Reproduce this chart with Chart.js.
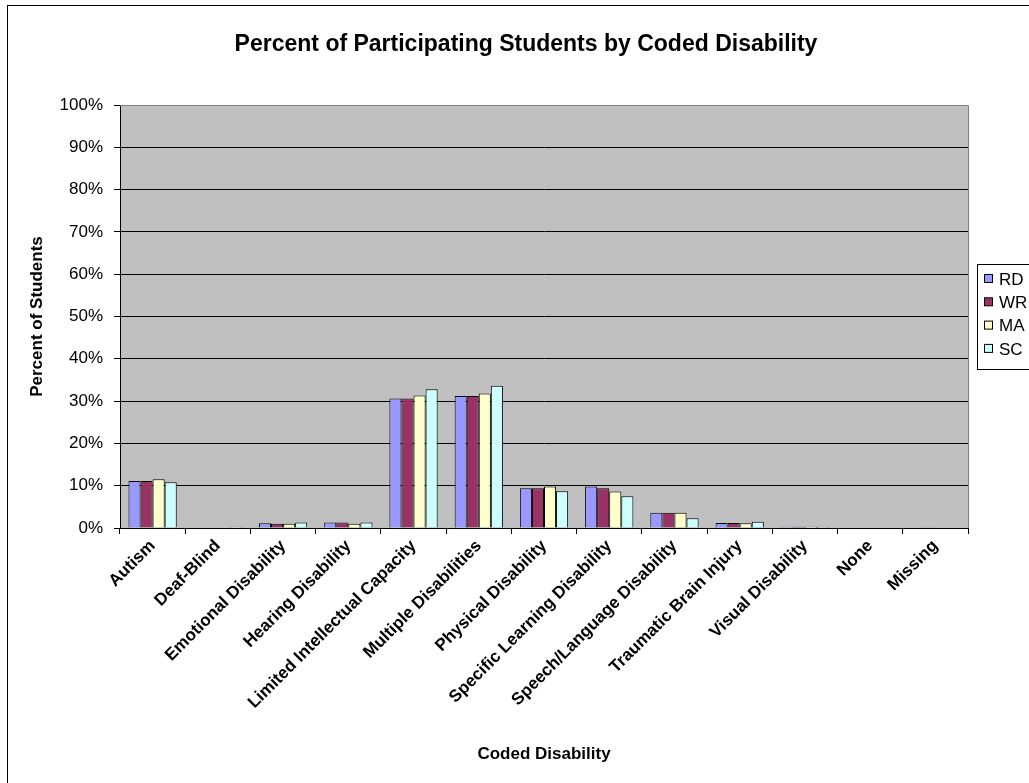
<!DOCTYPE html>
<html>
<head>
<meta charset="utf-8">
<title>Percent of Participating Students by Coded Disability</title>
<script src="https://cdn.jsdelivr.net/npm/chart.js@4/dist/chart.umd.min.js"></script>
<style>
  html, body { margin: 0; padding: 0; background: #fff; }
  canvas { display: block; }
</style>
</head>
<body>
<canvas id="grafico" width="1029" height="783"></canvas>
<script>
// Categorías y valores (porcentaje de estudiantes)
const categorias = [
  'Autism', 'Deaf-Blind', 'Emotional Disability', 'Hearing Disability',
  'Limited Intellectual Capacity', 'Multiple Disabilities', 'Physical Disability',
  'Specific Learning Disability', 'Speech/Language Disability', 'Traumatic Brain Injury',
  'Visual Disability', 'None', 'Missing'
];
const valoresRD = [11.1, 0, 1.1, 1.3, 30.6, 31.2, 9.4, 9.8, 3.6, 1.2, 0.3, 0, 0.2];
const valoresWR = [11.1, 0, 1.0, 1.3, 30.6, 31.2, 9.4, 9.4, 3.6, 1.2, 0.3, 0, 0.2];
const valoresMA = [11.5, 0.2, 1.0, 1.0, 31.3, 31.8, 9.8, 8.6, 3.6, 1.1, 0.3, 0, 0.2];
const valoresSC = [10.8, 0.3, 1.3, 1.3, 32.8, 33.6, 8.7, 7.5, 2.3, 1.5, 0.3, 0, 0.2];
const marcasY = [0, 10, 20, 30, 40, 50, 60, 70, 80, 90, 100];
const titulo = 'Percent of Participating Students by Coded Disability';

const fuente = '"Liberation Sans", Arial, sans-serif';

// Fondo gris del área de trazado, marco exterior, título y leyenda
const decoracion = {
  id: 'decoracion',
  beforeDraw(chart) {
    const { ctx, chartArea: a } = chart;
    ctx.save();
    ctx.fillStyle = '#fff';
    ctx.fillRect(0, 0, chart.width, chart.height);
    ctx.fillStyle = '#c0c0c0';
    ctx.fillRect(a.left, a.top, a.right - a.left, a.bottom - a.top);
    ctx.restore();
  },
  afterDraw(chart) {
    const { ctx, chartArea: a } = chart;
    ctx.save();
    // borde del área de trazado
    ctx.strokeStyle = '#808080';
    ctx.lineWidth = 1;
    ctx.beginPath();
    ctx.moveTo(a.left, a.top + 0.5);
    ctx.lineTo(a.right + 0.5, a.top + 0.5);
    ctx.lineTo(a.right + 0.5, a.bottom);
    ctx.stroke();
    // marco del gráfico
    ctx.strokeStyle = '#000';
    ctx.strokeRect(7.5, 5.5, 1040, 800);
    // título
    ctx.fillStyle = '#000';
    ctx.font = 'bold 23px ' + fuente;
    ctx.textAlign = 'center';
    ctx.textBaseline = 'middle';
    ctx.fillText(titulo, 526, 45);
    // leyenda
    ctx.strokeRect(977.5, 264.5, 80, 105);
    ctx.font = '17px ' + fuente;
    ctx.textAlign = 'left';
    chart.data.datasets.forEach((ds, i) => {
      const y = 279 + i * 23.3;
      ctx.fillStyle = ds.backgroundColor;
      ctx.fillRect(984.5, y - 4.5, 8, 8);
      ctx.strokeRect(984.5, y - 4.5, 8, 8);
      ctx.fillStyle = '#000';
      ctx.fillText(ds.label, 999, y + 1);
    });
    ctx.restore();
  }
};

const serie = (label, data, color) => ({
  label: label,
  data: data,
  backgroundColor: color,
  borderColor: '#000',
  borderWidth: 1,
  borderSkipped: 'bottom',
  categoryPercentage: 0.74,
  barPercentage: 1
});

new Chart(document.getElementById('grafico'), {
  type: 'bar',
  data: {
    labels: categorias,
    datasets: [
      serie('RD', valoresRD, '#9999ff'),
      serie('WR', valoresWR, '#993366'),
      serie('MA', valoresMA, '#ffffcc'),
      serie('SC', valoresSC, '#ccffff')
    ]
  },
  options: {
    responsive: false,
    animation: false,
    devicePixelRatio: 1,
    layout: { padding: { left: 22, right: 61, top: 105, bottom: 16 } },
    plugins: {
      legend: { display: false },
      tooltip: { enabled: false },
      title: { display: false }
    },
    scales: {
      x: {
        grid: { offset: true, drawOnChartArea: false, color: '#000', tickLength: 6 },
        border: { color: '#000' },
        ticks: {
          color: '#000',
          font: { family: fuente, size: 17, weight: 'bold' },
          maxRotation: 45,
          minRotation: 45,
          padding: 2,
          autoSkip: false
        },
        title: {
          display: true,
          text: 'Coded Disability',
          color: '#000',
          font: { family: fuente, size: 17, weight: 'bold' },
          padding: 2
        },
        afterFit(scale) { scale.height = 239; }
      },
      y: {
        min: 0,
        max: 100,
        afterBuildTicks(scale) { scale.ticks = marcasY.map(v => ({ value: v })); },
        grid: { color: '#000', tickLength: 6 },
        border: { color: '#000' },
        ticks: {
          color: '#000',
          font: { family: fuente, size: 17 },
          padding: 11,
          callback: v => v + '%'
        },
        title: {
          display: true,
          text: 'Percent of Students',
          color: '#000',
          font: { family: fuente, size: 17, weight: 'bold' },
          padding: 5
        },
        afterFit(scale) { scale.width = 98; }
      }
    }
  },
  plugins: [decoracion]
});
</script>
</body>
</html>
